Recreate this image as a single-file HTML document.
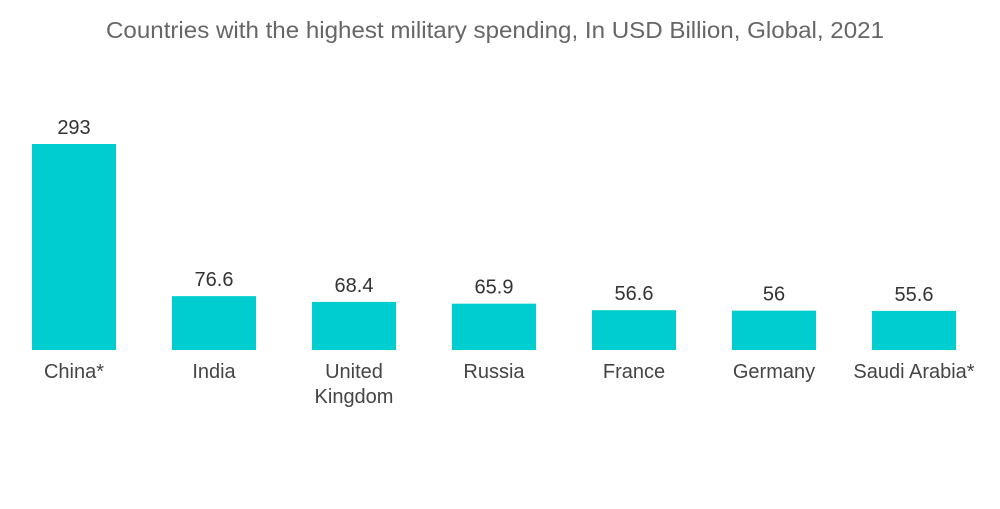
<!DOCTYPE html>
<html><head><meta charset="utf-8">
<style>
html,body{margin:0;padding:0;background:#fff;}
body{width:1000px;height:504px;overflow:hidden;font-family:"Liberation Sans",sans-serif;}
</style></head>
<body>
<svg id="chart" width="1000" height="504" xmlns="http://www.w3.org/2000/svg">
<text x="106" y="38" textLength="778" lengthAdjust="spacingAndGlyphs" font-size="23" fill="#666" font-family="Liberation Sans, sans-serif">Countries with the highest military spending, In USD  Billion, Global, 2021</text>
<g id="bars"></g>
</svg>
<script>
const categories = [["China*"], ["India"], ["United", "Kingdom"], ["Russia"], ["France"], ["Germany"], ["Saudi Arabia*"]];
const values = [293, 76.6, 68.4, 65.9, 56.6, 56, 55.6];
const valueLabels = ["293", "76.6", "68.4", "65.9", "56.6", "56", "55.6"];

const baseY = 350, pxPerUnit = 206 / 293, firstCenter = 74, step = 140, barW = 84;
const xScale = i => firstCenter + i * step;
const yScale = v => baseY - v * pxPerUnit;
const ns = "http://www.w3.org/2000/svg";
const g = document.getElementById("bars");
values.forEach((v, i) => {
  const cx = xScale(i), top = yScale(v);
  const r = document.createElementNS(ns, "rect");
  r.setAttribute("x", cx - barW / 2);
  r.setAttribute("y", top);
  r.setAttribute("width", barW);
  r.setAttribute("height", baseY - top);
  r.setAttribute("fill", "#00cdd0");
  
  
  g.appendChild(r);
  const t = document.createElementNS(ns, "text");
  t.setAttribute("x", cx);
  t.setAttribute("y", top - 10);
  t.setAttribute("text-anchor", "middle");
  t.setAttribute("font-size", "20");
  t.setAttribute("fill", "#333");
  t.textContent = valueLabels[i];
  
  
  g.appendChild(t);
  categories[i].forEach((line, j) => {
    const c = document.createElementNS(ns, "text");
    c.setAttribute("x", cx);
    c.setAttribute("y", 378 + j * 25);
    c.setAttribute("text-anchor", "middle");
    c.setAttribute("font-size", "20");
    c.setAttribute("fill", "#444");
    c.textContent = line;
    
    
    g.appendChild(c);
  });
});
</script>
</body></html>
